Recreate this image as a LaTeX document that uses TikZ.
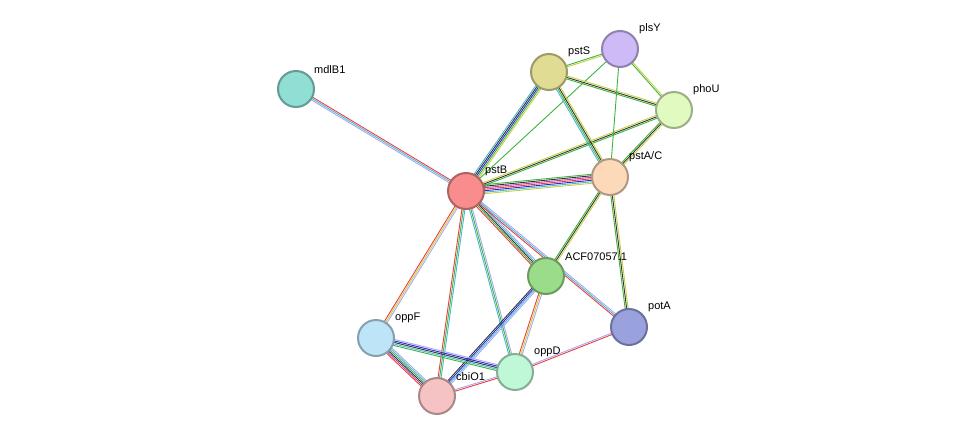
\documentclass[tikz,border=0pt]{standalone}
\usepackage{fontspec}
\setmainfont{Liberation Sans}
\usetikzlibrary{calc,backgrounds}
\definecolor{eG}{HTML}{3CB43C}
\definecolor{eK}{HTML}{333333}
\definecolor{eB}{HTML}{2828D8}
\definecolor{eC}{HTML}{48B8D0}
\definecolor{eY}{HTML}{C8D040}
\definecolor{eL}{HTML}{A8A8F0}
\definecolor{eR}{HTML}{F03C3C}
\definecolor{eM}{HTML}{B040B0}
\newcommand\lnk[4]{%
  \foreach \c [count=\i] in {#4} {%
    \pgfmathsetmacro\o{(\i-(#3+1)/2)*1.5}%
    \draw[\c, line width=0.9pt] ($(#1)!\o pt!90:(#2)$) -- ($(#2)!\o pt!-90:(#1)$);
  }}
\tikzset{prot/.style={circle, minimum size=36pt, inner sep=0pt, line width=2pt, fill=#1, draw=#1!70!black},
  lab/.style={font=\fontsize{11}{13}\selectfont, anchor=south west, inner sep=1pt}}
\begin{document}
\begin{tikzpicture}[x=1pt,y=-1pt]
\useasboundingbox (0,0) rectangle (975,442);
\definecolor{nT}{HTML}{90DED4}\definecolor{nS}{HTML}{E0DC94}\definecolor{nP}{HTML}{CDBAF6}
\definecolor{nU}{HTML}{E0FAC0}\definecolor{nA}{HTML}{FCD9B8}\definecolor{nB}{HTML}{F98C8C}
\definecolor{nF}{HTML}{9ADC8A}\definecolor{nO}{HTML}{9AA2DE}\definecolor{nE}{HTML}{BEE4F8}
\definecolor{nD}{HTML}{BFF8D6}\definecolor{nC}{HTML}{F5C3C3}
\node[prot=nT] (mdlB1) at (296,89) {};
\node[prot=nS] (pstS) at (549,72) {};
\node[prot=nP] (plsY) at (620,49) {};
\node[prot=nU] (phoU) at (674,110) {};
\node[prot=nA] (pstAC) at (610,177) {};
\node[prot=nB] (pstB) at (466,191) {};
\node[prot=nF] (acf) at (546,276) {};
\node[prot=nO] (potA) at (629,327) {};
\node[prot=nE] (oppF) at (376,338) {};
\node[prot=nD] (oppD) at (515,372) {};
\node[prot=nC] (cbiO1) at (437,396) {};
\begin{pgfonlayer}{background}
\lnk{pstB}{mdlB1}{3}{eR,eC,eL}
\lnk{pstB}{pstS}{5}{eY,eG,eB,eK,eC}
\lnk{pstB}{plsY}{1}{eG}
\lnk{pstB}{phoU}{3}{eG,eK,eY}
\lnk{pstB}{pstAC}{7}{eY,eC,eB,eR,eM,eK,eG}
\lnk{pstB}{acf}{5}{eR,eG,eK,eC,eL}
\lnk{pstB}{potA}{3}{eR,eC,eL}
\lnk{pstB}{oppF}{3}{eR,eY,eL}
\lnk{pstB}{cbiO1}{3}{eR,eG,eC}
\lnk{pstB}{oppD}{3}{eC,eG,eL}
\lnk{pstS}{plsY}{2}{eY,eG}
\lnk{pstS}{phoU}{3}{eG,eK,eY}
\lnk{pstS}{pstAC}{4}{eC,eG,eK,eY}
\lnk{plsY}{phoU}{2}{eG,eY}
\lnk{plsY}{pstAC}{1}{eG}
\lnk{phoU}{pstAC}{3}{eG,eK,eY}
\lnk{pstAC}{acf}{3}{eG,eK,eY}
\lnk{pstAC}{potA}{3}{eG,eK,eY}
\lnk{acf}{cbiO1}{4}{eK,eB,eC,eL}
\lnk{acf}{oppD}{3}{eR,eY,eL}
\lnk{oppF}{oppD}{5}{eG,eC,eK,eB,eL}
\lnk{oppF}{cbiO1}{6}{eR,eM,eK,eG,eC,eL}
\lnk{cbiO1}{oppD}{2}{eR,eL}
\lnk{oppD}{potA}{2}{eR,eL}
\end{pgfonlayer}
\node[lab] at (313,75) {mdlB1};
\node[lab] at (567,58) {pstS};
\node[lab] at (638,35) {plsY};
\node[lab] at (692,96) {phoU};
\node[lab] at (628,163) {pstA/C};
\node[lab] at (484,177) {pstB};
\node[lab] at (564,262) {ACF07057.1};
\node[lab] at (647,313) {potA};
\node[lab] at (394,324) {oppF};
\node[lab] at (533,358) {oppD};
\node[lab] at (455,382) {cbiO1};
\end{tikzpicture}
\end{document}
